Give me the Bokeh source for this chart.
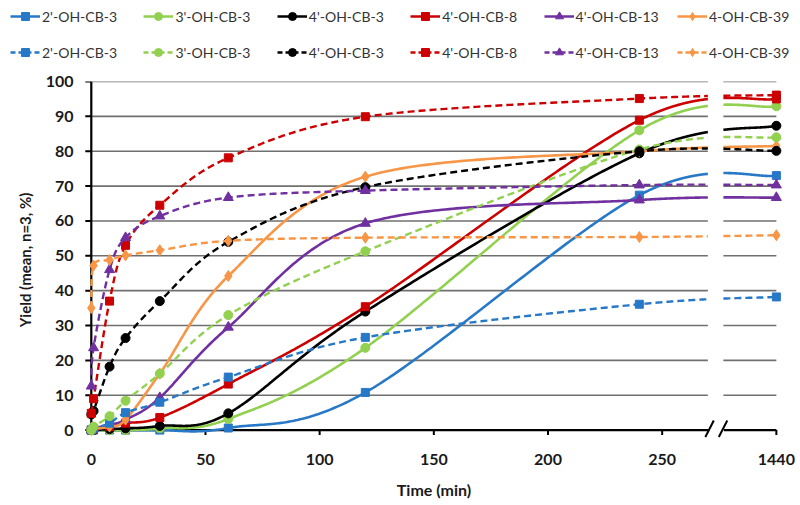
import numpy as np
from bokeh.plotting import figure
from bokeh.models import Range1d, FixedTicker, Legend, LegendItem
from bokeh.layouts import column
from bokeh.embed import file_html
from bokeh.resources import INLINE

# ---------------- data ----------------
times = [0, 1, 8, 15, 30, 60, 120, 240, 1440]
names = ["2'-OH-CB-3", "3'-OH-CB-3", "4'-OH-CB-3", "4'-OH-CB-8", "4'-OH-CB-13", "4-OH-CB-39"]

# solid series
solid_2oh_cb3 = [0, 0, 0, 0, 0, 0.6, 10.8, 67.4, 73.0]
solid_3oh_cb3 = [0, 0, 0, 0, 0.5, 3.2, 23.6, 86.0, 92.9]
solid_4oh_cb3 = [0, 0, 0.3, 0.5, 1.2, 4.8, 34.0, 79.4, 87.3]
solid_4oh_cb8 = [0, 0.3, 1.0, 2.0, 3.6, 13.2, 35.4, 88.9, 95.0]
solid_4oh_cb13 = [0, 0.5, 1.5, 3.0, 9.3, 29.5, 59.3, 66.0, 66.7]
solid_4oh_cb39 = [0, 0.3, 1.0, 3.0, 16.2, 44.2, 72.7, 80.0, 81.5]

# dashed series
dashed_2oh_cb3 = [0, 0.5, 2.0, 5.0, 8.0, 15.2, 26.6, 36.1, 38.2]
dashed_3oh_cb3 = [0, 1.0, 4.0, 8.4, 16.2, 33.0, 51.3, 80.5, 84.0]
dashed_4oh_cb3 = [4.5, 5.5, 18.2, 26.4, 37.0, 54.0, 69.7, 80.0, 80.1]
dashed_4oh_cb8 = [4.8, 9.0, 37.0, 53.0, 64.5, 78.1, 89.9, 95.1, 96.1]
dashed_4oh_cb13 = [12.6, 23.6, 46.0, 55.2, 61.4, 66.7, 68.7, 70.3, 70.3]
dashed_4oh_cb39 = [35.0, 47.2, 48.8, 50.1, 51.6, 54.3, 55.2, 55.4, 55.9]

x_ticks = [0, 50, 100, 150, 200, 250, 1440]
y_ticks = [0, 10, 20, 30, 40, 50, 60, 70, 80, 90, 100]

solid_series = [solid_2oh_cb3, solid_3oh_cb3, solid_4oh_cb3, solid_4oh_cb8, solid_4oh_cb13, solid_4oh_cb39]
dashed_series = [dashed_2oh_cb3, dashed_3oh_cb3, dashed_4oh_cb3, dashed_4oh_cb8, dashed_4oh_cb13, dashed_4oh_cb39]

colors = ["#2878C8", "#92D050", "#000000", "#CC0000", "#7030A0", "#F79646"]
markers = ["square", "circle", "circle", "square", "triangle", "diamond"]
msizes = {"square": 8, "circle": 9, "triangle": 10, "diamond": 11}

# ---------------- broken axis mapping ----------------
BREAK_LO = 270.0      # end of the first axis segment (display units)
BREAK_HI = 276.8      # start of the second segment
POS_1440 = 300.0      # display position of the 1440 min point
SX, SY = 2.2833, 3.486  # px per unit (used for screen-space smoothing & tick lengths)


def disp(t):
    return POS_1440 if t == 1440 else float(t)


def catmull(xs, ys, n=80):
    P = np.column_stack([np.asarray(xs, float) * SX, np.asarray(ys, float) * SY])
    N = len(P)
    out = []
    for i in range(N - 1):
        p0 = P[i - 1] if i > 0 else P[i]
        p1, p2 = P[i], P[i + 1]
        p3 = P[i + 2] if i + 2 < N else P[i + 1]
        c1 = p1 + (p2 - p0) / 6.0
        c2 = p2 - (p3 - p1) / 6.0
        m = 400 if i == N - 2 else n
        t = np.linspace(0, 1, m, endpoint=(i == N - 2))[:, None]
        b = (1 - t) ** 3 * p1 + 3 * (1 - t) ** 2 * t * c1 + 3 * (1 - t) * t ** 2 * c2 + t ** 3 * p2
        out.append(b)
    B = np.vstack(out)
    return B[:, 0] / SX, B[:, 1] / SY


def cut_at(x, y, xc):
    i = int(np.argmax(x > xc))
    f = (xc - x[i - 1]) / (x[i] - x[i - 1])
    return y[i - 1] + f * (y[i] - y[i - 1])


def broken_curve(vals):
    xd = [disp(t) for t in times]
    x, y = catmull(xd, vals)
    yl = cut_at(x, y, BREAK_LO)
    yr = cut_at(x, y, BREAK_HI)
    L = x < BREAK_LO
    R = x > BREAK_HI
    xs = np.concatenate([x[L], [BREAK_LO, np.nan, BREAK_HI], x[R]])
    ys = np.concatenate([y[L], [yl, np.nan, yr], y[R]])
    return xs, ys


FONT = "Lato"
TXT = "#1a1a1a"

# ---------------- main figure ----------------
p = figure(frame_width=703, frame_height=357,
           min_border_left=82, min_border_right=15, min_border_top=12, min_border_bottom=67,
           x_range=Range1d(-3.85, 304.0), y_range=Range1d(-2.41, 100.0),
           output_backend="svg", toolbar_location=None)
p.frame_align = False
p.xgrid.visible = False
p.ygrid.visible = False
p.outline_line_color = None
p.background_fill_color = "white"

# axes (labels only; lines and ticks drawn at the data origin below)
tick_pos = [disp(t) for t in x_ticks]
p.xaxis.ticker = FixedTicker(ticks=tick_pos)
p.xaxis.major_label_overrides = {disp(t): str(t) for t in x_ticks}
p.xaxis.axis_line_color = None
p.xaxis.major_tick_line_color = None
p.xaxis.minor_tick_line_color = None
p.xaxis.major_tick_in = 0
p.xaxis.major_tick_out = 0
p.xaxis.major_label_standoff = 15
p.xaxis.major_label_text_font = FONT
p.xaxis.major_label_text_font_style = "bold"
p.xaxis.major_label_text_font_size = "16px"
p.xaxis.major_label_text_color = TXT
p.xaxis.axis_label = "Time (min)"
p.xaxis.axis_label_text_font = FONT
p.xaxis.axis_label_text_font_style = "bold"
p.xaxis.axis_label_text_font_size = "16px"
p.xaxis.axis_label_text_color = TXT
p.xaxis.axis_label_standoff = 12

p.yaxis.ticker = FixedTicker(ticks=y_ticks)
p.yaxis.axis_line_color = None
p.yaxis.major_tick_line_color = None
p.yaxis.minor_tick_line_color = None
p.yaxis.major_tick_in = 0
p.yaxis.major_tick_out = 0
p.yaxis.major_label_standoff = 9
p.yaxis.major_label_text_font = FONT
p.yaxis.major_label_text_font_style = "bold"
p.yaxis.major_label_text_font_size = "16px"
p.yaxis.major_label_text_color = TXT
p.yaxis.axis_label = "Yield (mean, n=3, %)"
p.yaxis.axis_label_text_font = FONT
p.yaxis.axis_label_text_font_style = "bold"
p.yaxis.axis_label_text_font_size = "15px"
p.yaxis.axis_label_text_color = TXT
p.yaxis.axis_label_standoff = 9

# gridlines (broken)
grid_y = [v for v in y_ticks if v > 0]
p.segment(x0=[0] * len(grid_y), x1=[BREAK_LO] * len(grid_y), y0=grid_y, y1=grid_y,
          line_color="#707070", line_width=1.6)
p.segment(x0=[BREAK_HI] * len(grid_y), x1=[POS_1440] * len(grid_y), y0=grid_y, y1=grid_y,
          line_color="#707070", line_width=1.6)

# axis lines
p.segment(x0=[0, 0, BREAK_HI + 0.2], x1=[0, BREAK_LO + 0.3, POS_1440], y0=[0, 0, 0], y1=[100, 0, 0],
          line_color="black", line_width=2.2)
# tick marks (5 px below x axis, 6 px left of y axis)
p.segment(x0=tick_pos, x1=tick_pos, y0=[0] * len(tick_pos), y1=[-5 / SY] * len(tick_pos),
          line_color="black", line_width=2)
p.segment(x0=[0] * len(y_ticks), x1=[-6 / SX] * len(y_ticks), y0=y_ticks, y1=y_ticks,
          line_color="black", line_width=2)
# break marks
bx = [BREAK_LO - 1.1, BREAK_LO + 4.8]
p.segment(x0=bx, x1=[b + 3.7 for b in bx], y0=[-2.0, -2.0], y1=[2.75, 2.75],
          line_color="black", line_width=2)

for vals, c, mk in zip(solid_series, colors, markers):
    xs, ys = broken_curve(vals)
    p.line(xs, ys, line_color=c, line_width=2.6)
    p.scatter([disp(t) for t in times], vals, marker=mk, size=msizes[mk],
              fill_color=c, line_color=c)

for vals, c, mk in zip(dashed_series, colors, markers):
    xs, ys = broken_curve(vals)
    p.line(xs, ys, line_color=c, line_width=2.4, line_dash="7 4")
    p.scatter([disp(t) for t in times], vals, marker=mk, size=msizes[mk],
              fill_color=c, line_color=c)

# ---------------- legend strip ----------------
LEG_H = 69
ITEM_W = 133.4
pl = figure(width=800, height=LEG_H, min_border=0,
            x_range=Range1d(0, 800), y_range=Range1d(0, LEG_H),
            x_axis_location=None, y_axis_location=None,
            output_backend="svg", toolbar_location=None)
pl.frame_align = False
pl.xgrid.visible = False
pl.ygrid.visible = False
pl.outline_line_color = None


def add_entry(k, row_bottom, nm, c, mk, dash):
    lr = pl.line([np.nan], [np.nan], line_color=c, line_width=2.5, line_dash=dash)
    sr = pl.scatter([np.nan], [np.nan], marker=mk, size=msizes[mk], fill_color=c, line_color=c)
    leg = Legend(items=[LegendItem(label=nm, renderers=[lr, sr])], orientation="horizontal",
                 location=(10 + ITEM_W * k, row_bottom),
                 glyph_width=30, glyph_height=20, label_height=20,
                 label_standoff=2, spacing=0,
                 padding=0, margin=0, background_fill_alpha=0, border_line_alpha=0,
                 label_text_font=FONT, label_text_font_size="14px",
                 label_text_color="#333333")
    pl.add_layout(leg)


for k, (nm, c, mk) in enumerate(zip(names, colors, markers)):
    add_entry(k, LEG_H - 26, nm, c, mk, "solid")
for k, (nm, c, mk) in enumerate(zip(names, colors, markers)):
    add_entry(k, LEG_H - 62, nm, c, mk, "5 3")

layout = column(pl, p, spacing=0)
open("out.html", "w").write(file_html(layout, INLINE))
